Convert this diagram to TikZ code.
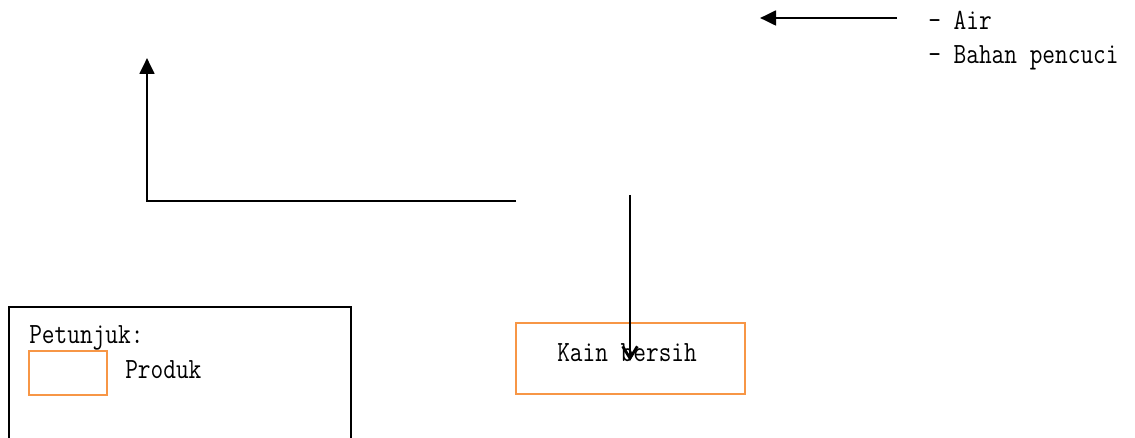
\documentclass[tikz,border=0pt]{standalone}
\usepackage{fontspec}
\newfontfamily\labelfont{Latin Modern Mono}[FakeStretch=0.84]
\usetikzlibrary{arrows.meta}
\definecolor{prodorange}{HTML}{F79646}
\tikzset{
  flow/.style={line width=2.1pt},
  produkbox/.style={draw=prodorange, line width=1.6pt, inner sep=0pt},
  lbl/.style={anchor=base west, inner sep=0pt, font=\labelfont\fontsize{22pt}{26pt}\selectfont},
}
\begin{document}
\begin{tikzpicture}[x=0.75pt,y=-0.75pt]
\useasboundingbox (0,0) rectangle (1135,438);
% legend frame (bottom edge off the page)
\draw[line width=0.8pt] (9,440) -- (9,307) -- (351,307) -- (351,440);
\node[lbl] (petunjuk) at (29,343) {Petunjuk:};
\node[produkbox, minimum width=58.5pt, minimum height=33pt] (legbox) at (68,373) {};
\node[lbl] (produk) at (125,378) {Produk};
% product box
\node[produkbox, minimum width=171.75pt, minimum height=53.25pt] (kain) at (630.5,358.5) {};
\node[lbl] (kaintxt) at (557,361) {Kain bersih};
% inputs text
\node[lbl] (air) at (928,30) {- Air};
\node[lbl] (bahan) at (928,64) {- Bahan pencuci};
% connectors
\coordinate (t1) at (897,18);
\coordinate (t2) at (760,18);
\draw[flow, -{Triangle[length=12pt,width=11pt]}] (t1) -- (t2);
\coordinate (h1) at (516,201);
\coordinate (h2) at (147,201);
\coordinate (h3) at (147,58);
\draw[flow, -{Triangle[length=12pt,width=11pt]}] (h1) -- (h2) -- (h3);
\coordinate (v1) at (630,195);
\coordinate (v2) at (630,361);
\draw[flow, -{Straight Barb[length=9pt,width=11pt]}] (v1) -- (v2);
\end{tikzpicture}
\end{document}
